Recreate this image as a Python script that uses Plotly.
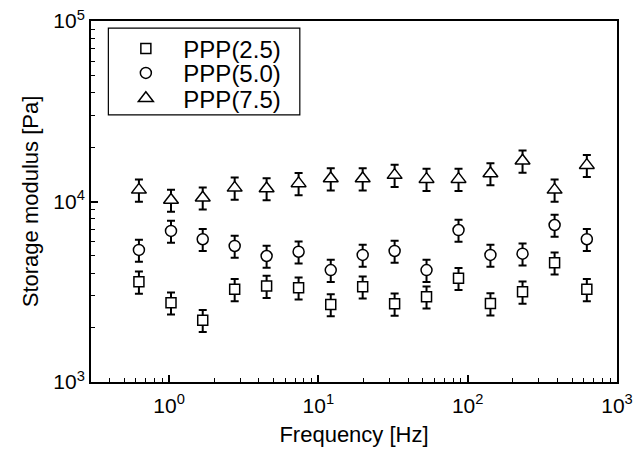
import plotly.graph_objects as go

freq = [0.628, 1.03, 1.68, 2.75, 4.5, 7.37, 12.1, 19.8, 32.4, 53.0, 86.8, 142, 233, 382, 628]
ppp25 = [3590, 2750, 2200, 3260, 3400, 3330, 2690, 3370, 2710, 2970, 3760, 2720, 3160, 4580, 3260]
ppp50 = [5390, 6870, 6180, 5670, 4990, 5270, 4170, 5060, 5320, 4170, 6950, 5060, 5140, 7410, 6180]
ppp75 = [11600, 10200, 10500, 11900, 11800, 12600, 13400, 13400, 14000, 13300, 13300, 14300, 16800, 11600, 15900]
err_pct = 14

x_major = [1, 10, 100, 1000]
x_major_text = ["10<sup>0</sup>", "10<sup>1</sup>", "10<sup>2</sup>", "10<sup>3</sup>"]
x_minor = [0.3, 0.4, 0.5, 0.6, 0.7, 0.8, 0.9, 2, 3, 4, 5, 6, 7, 8, 9,
           20, 30, 40, 50, 60, 70, 80, 90, 200, 300, 400, 500, 600, 700, 800, 900]
y_major = [1000, 10000, 100000]
y_major_text = ["10<sup>3</sup>", "10<sup>4</sup>", "10<sup>5</sup>"]
y_minor = [2000, 3000, 4000, 5000, 6000, 7000, 8000, 9000,
           20000, 30000, 40000, 50000, 60000, 70000, 80000, 90000]

FONT = "Liberation Sans, Arial, sans-serif"

series = [
    ("PPP(2.5)", ppp25, "square", 10, "legend", 0.923),
    ("PPP(5.0)", ppp50, "circle", 11, "legend2", 0.855),
    ("PPP(7.5)", ppp75, "triangle-up", 13, "legend3", 0.785),
]

fig = go.Figure()
legend_layout = {}
for name, vals, sym, sz, leg, ly in series:
    fig.add_trace(go.Scatter(
        x=freq, y=vals, name=name, mode="markers", legend=leg,
        marker=dict(symbol=sym, size=sz, color="white",
                    line=dict(color="black", width=1.5)),
        error_y=dict(type="percent", value=err_pct, color="black",
                     thickness=2, width=4),
    ))
    legend_layout[leg] = dict(
        x=0.033, y=ly, xanchor="left", yanchor="middle",
        borderwidth=0, bgcolor="rgba(0,0,0,0)",
        font=dict(size=24, family=FONT), itemwidth=65,
    )

# page body has an 8px default margin, so the figure is sized to fit the window
fig.update_layout(
    width=636, height=442,
    margin=dict(l=83, r=27, t=13, b=68),
    paper_bgcolor="white", plot_bgcolor="white",
    font=dict(family=FONT, size=20, color="black"),
    showlegend=True,
    **legend_layout,
)

# legend frame
fig.add_shape(type="rect", xref="paper", yref="paper",
              x0=0.033, x1=0.397, y0=0.740, y1=0.980,
              line=dict(color="black", width=1.2), fillcolor="rgba(0,0,0,0)")

fig.update_xaxes(
    type="log", range=[-0.523, 3], automargin=False, ticklabeloverflow="allow",
    tickvals=x_major, ticktext=x_major_text,
    ticks="inside", ticklen=7, tickwidth=1.5, tickcolor="black",
    minor=dict(tickvals=x_minor, ticks="inside", ticklen=4, tickwidth=1, tickcolor="black"),
    showline=True, linecolor="black", linewidth=2, mirror=True,
    showgrid=False, zeroline=False, ticklabelstandoff=4,
    tickfont=dict(size=21),
    title=dict(text="Frequency [Hz]", font=dict(size=22), standoff=10),
)
fig.update_yaxes(
    type="log", range=[3, 5], automargin=False, ticklabeloverflow="allow",
    tickvals=y_major, ticktext=y_major_text,
    ticks="inside", ticklen=7, tickwidth=1.5, tickcolor="black",
    minor=dict(tickvals=y_minor, ticks="inside", ticklen=4, tickwidth=1, tickcolor="black"),
    showline=True, linecolor="black", linewidth=2, mirror=True,
    showgrid=False, zeroline=False,
    tickfont=dict(size=21),
    title=dict(text="Storage modulus [Pa]", font=dict(size=22), standoff=9),
)

fig.write_html("out.html")
